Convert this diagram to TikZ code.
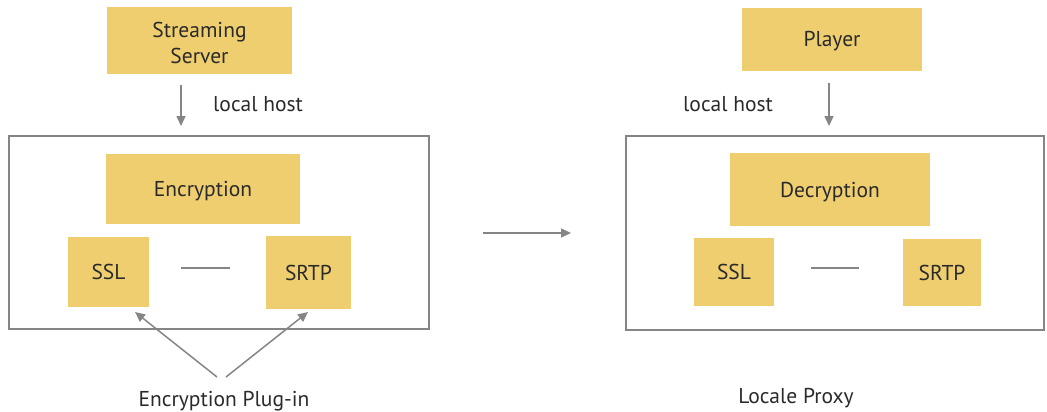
\documentclass[tikz,border=0pt]{standalone}
\usepackage{fontspec}
\setmainfont{PT Sans}
\usetikzlibrary{arrows.meta}
\definecolor{boxy}{HTML}{EFCE6F}
\definecolor{lineg}{HTML}{858585}
\definecolor{txt}{HTML}{2A2A2A}
\begin{document}
\begin{tikzpicture}[x=1pt,y=-1pt,
  ybox/.style={fill=boxy,draw=none,inner sep=0pt,text=txt,font=\fontsize{21.5}{26}\selectfont,align=center,text height=15pt,text depth=0pt},
  frame/.style={draw=lineg,line width=1.6pt,inner sep=0pt},
  conn/.style={draw=lineg,line width=1.5pt},
  arr/.style={conn,-{Triangle[length=10pt,width=9pt]}},
  lbl/.style={text=txt,font=\fontsize{21.5}{26}\selectfont,inner sep=0pt}]
\useasboundingbox (0,0) rectangle (1047,412);
% left side
\node[ybox,minimum width=185pt,minimum height=67pt] (ss) at (199.5,40.5) {};
\node[text=txt,font=\fontsize{21.5}{26}\selectfont,align=center,inner sep=0pt,yshift=-2pt] (sst) at (ss.center) {Streaming\\Server};
\node[frame,minimum width=420pt,minimum height=193pt] (fl) at (219,232.5) {};
\node[ybox,minimum width=194pt,minimum height=70pt] (enc) at (203,189) {Encryption};
\node[ybox,minimum width=81pt,minimum height=70pt] (sslL) at (108.5,272) {SSL};
\node[ybox,minimum width=85pt,minimum height=73pt] (srtpL) at (308.5,272.5) {SRTP};
\node[lbl,anchor=west] (lhL) at (213,104) {local host};
\node[lbl] (plug) at (224,401) {Encryption Plug-in};
\coordinate (ssB) at (181,85);
\coordinate (ssT) at (181,126);
\draw[arr] (ssB) -- (ssT);
\coordinate (llA) at (181,268);
\coordinate (llB) at (230,268);
\draw[conn] (llA) -- (llB);
\coordinate (pA) at (217,377);
\coordinate (pB) at (226,377);
\coordinate (tA) at (135,312);
\coordinate (tB) at (308,312);
\draw[arr] (pA) -- (tA);
\draw[arr] (pB) -- (tB);
% middle arrow
\coordinate (mA) at (483,233);
\coordinate (mB) at (571,233);
\draw[arr] (mA) -- (mB);
% right side
\node[ybox,minimum width=180pt,minimum height=63pt] (pl) at (832,39.5) {Player};
\node[frame,minimum width=418pt,minimum height=194pt] (fr) at (835,233) {};
\node[ybox,minimum width=200pt,minimum height=73pt] (dec) at (830,189.5) {Decryption};
\node[ybox,minimum width=80pt,minimum height=68pt] (sslR) at (734,272) {SSL};
\node[ybox,minimum width=78pt,minimum height=67pt] (srtpR) at (942,272.5) {SRTP};
\node[lbl,anchor=west] (lhR) at (683,104) {local host};
\node[lbl] (proxy) at (796,398) {Locale Proxy};
\coordinate (plB) at (829,83);
\coordinate (plT) at (829,126);
\draw[arr] (plB) -- (plT);
\coordinate (rlA) at (811,268);
\coordinate (rlB) at (859,268);
\draw[conn] (rlA) -- (rlB);
\end{tikzpicture}
\end{document}
